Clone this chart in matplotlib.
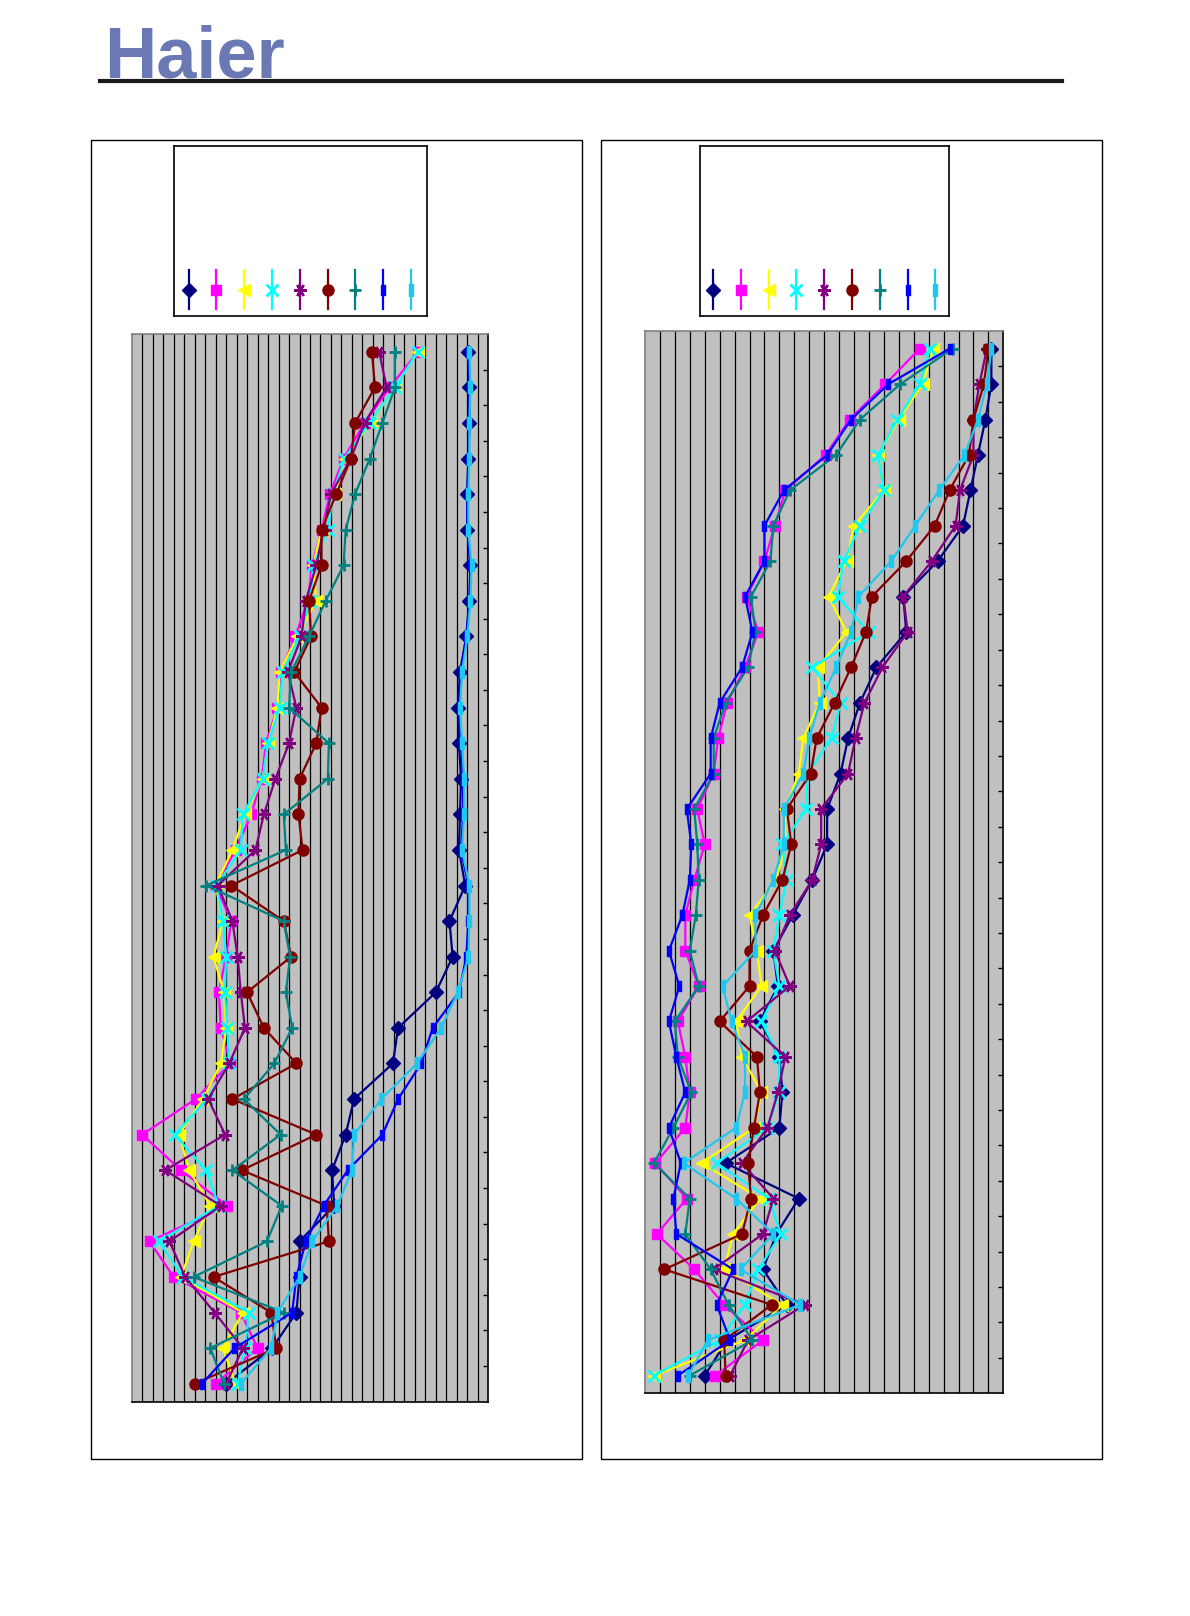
import matplotlib
matplotlib.use('Agg')
import matplotlib.pyplot as plt
from matplotlib.patches import Rectangle
from matplotlib.lines import Line2D
from matplotlib.path import Path
import numpy as np

# ---------------- data ----------------
rows = list(range(30))

# left chart (value in grid units, 0..34)
L_A = [32.1, 32.2, 32.2, 32.1, 32.0, 32.0, 32.3, 32.2, 31.9, 31.3, 31.1, 31.2, 31.4, 31.3, 31.2,
       31.8, 30.3, 30.6, 29.0, 25.4, 24.9, 21.2, 20.4, 19.1, 19.3, 16.0, 16.0, 15.7, 13.4, 9.0]
L_B = [27.3, 24.6, 22.2, 20.2, 18.9, 18.1, 17.2, 16.8, 15.6, 14.2, 13.9, 12.8, 12.4, 11.4, 9.9,
       8.0, 9.5, 9.0, 8.3, 8.5, 9.4, 6.1, 1.0, 4.7, 9.1, 1.7, 4.0, 10.4, 12.0, 8.0]
L_C = [27.3, 25.1, 22.8, 20.3, 19.4, 18.1, 17.3, 17.6, 15.8, 14.1, 13.9, 13.0, 12.5, 10.8, 9.6,
       8.0, 8.7, 7.8, 8.8, 9.0, 8.5, 6.8, 4.5, 5.5, 7.5, 5.9, 4.7, 10.6, 8.7, 9.9]
L_D = [27.3, 25.1, 22.7, 20.3, 19.2, 18.7, 17.3, 17.0, 16.0, 14.4, 14.1, 13.0, 12.5, 10.6, 10.4,
       8.1, 8.7, 9.0, 8.9, 9.1, 9.3, 7.2, 4.1, 7.1, 8.3, 2.6, 4.9, 11.2, 10.8, 10.1]
L_E = [23.6, 24.3, 22.2, 20.9, 19.0, 18.3, 17.6, 16.6, 16.2, 14.9, 15.7, 15.0, 13.7, 12.6, 11.8,
       8.2, 9.6, 10.1, 10.4, 10.8, 9.3, 7.3, 8.9, 3.2, 8.5, 3.6, 5.1, 7.9, 10.6, 9.0]
L_F = [22.9, 23.2, 21.3, 20.9, 19.5, 18.1, 18.1, 16.9, 17.1, 15.5, 18.1, 17.6, 16.0, 15.9, 16.3,
       9.5, 14.5, 15.2, 11.0, 12.6, 15.7, 9.6, 17.6, 10.5, 18.6, 18.8, 7.8, 13.3, 13.8, 6.0]
L_G = [25.1, 25.1, 23.9, 22.7, 21.3, 20.4, 20.2, 18.5, 16.9, 15.2, 15.0, 18.8, 18.7, 14.5, 14.7,
       7.1, 14.5, 15.1, 14.7, 15.3, 13.6, 10.7, 14.2, 9.6, 14.3, 12.9, 5.9, 14.5, 7.5, 8.8]
L_H = [32.1, 32.2, 32.2, 32.1, 32.0, 32.0, 32.3, 32.2, 31.9, 31.4, 31.2, 31.4, 31.6, 31.6, 31.4,
       32.1, 32.1, 31.9, 31.2, 28.7, 27.6, 25.4, 23.9, 20.6, 18.3, 16.6, 15.7, 15.3, 9.8, 6.7]
L_I = [32.2, 32.3, 32.2, 32.2, 32.1, 32.1, 32.4, 32.3, 32.0, 31.5, 31.3, 31.5, 31.7, 31.7, 31.5,
       32.2, 32.2, 32.1, 31.1, 29.5, 27.2, 23.8, 21.2, 21.0, 19.6, 17.2, 16.0, 13.9, 13.3, 10.4]

# right chart (value in grid units, 0..24)
R_A = [23.2, 23.2, 22.8, 22.3, 21.8, 21.3, 19.6, 17.3, 17.5, 15.5, 14.4, 13.6, 13.1, 12.2, 12.2,
       11.2, 9.9, 8.6, 8.9, 7.7, 9.0, 9.2, 9.0, 5.4, 10.3, 8.8, 7.9, 9.5, 5.5, 4.0]
R_B = [18.4, 16.1, 13.7, 12.1, 9.4, 8.7, 8.0, 6.8, 7.6, 6.7, 5.5, 4.9, 4.6, 3.5, 4.0,
       3.3, 2.7, 2.7, 3.6, 2.2, 2.7, 3.0, 2.7, 0.7, 2.8, 0.8, 3.3, 5.3, 7.9, 4.7]
R_C = [19.3, 18.6, 17.0, 15.6, 16.0, 14.0, 13.5, 12.3, 13.5, 11.6, 11.7, 10.6, 10.3, 9.4, 9.4,
       8.8, 7.0, 7.5, 7.8, 6.1, 6.5, 7.8, 7.3, 3.8, 7.7, 5.9, 5.3, 9.2, 6.7, 0.6]
R_D = [19.1, 18.4, 16.9, 15.6, 16.0, 14.4, 13.3, 12.9, 15.0, 11.2, 13.1, 12.5, 10.9, 10.8, 9.2,
       9.5, 9.0, 8.6, 9.0, 7.8, 9.0, 9.0, 8.2, 4.8, 8.3, 9.1, 7.6, 6.7, 5.0, 0.6]
R_E = [22.9, 22.4, 22.0, 22.0, 21.1, 20.8, 19.2, 17.3, 17.6, 15.9, 14.7, 14.1, 13.6, 11.8, 11.8,
       11.2, 9.7, 8.7, 9.7, 6.8, 9.4, 8.9, 8.2, 6.5, 8.6, 7.9, 4.6, 10.7, 6.9, 5.7]
R_F = [23.0, 22.7, 22.0, 21.7, 20.4, 19.4, 17.5, 15.2, 14.8, 13.8, 12.7, 11.5, 11.1, 9.5, 9.8,
       9.2, 7.9, 7.0, 7.0, 5.0, 7.5, 7.7, 7.3, 6.9, 7.1, 6.5, 1.3, 8.5, 5.3, 5.4]
R_G = [20.6, 17.1, 14.4, 12.8, 9.7, 8.6, 8.4, 7.1, 7.4, 6.9, 5.4, 4.6, 4.6, 3.3, 3.5,
       3.6, 3.4, 3.0, 3.6, 2.0, 2.2, 3.1, 1.9, 0.6, 3.0, 2.7, 4.4, 5.6, 7.2, 3.0]
R_H = [20.4, 16.3, 13.8, 12.2, 9.3, 8.0, 8.0, 6.7, 7.2, 6.5, 5.0, 4.4, 4.4, 2.8, 3.1,
       3.0, 2.5, 1.6, 2.3, 1.6, 2.1, 2.7, 1.6, 2.4, 1.9, 2.1, 5.9, 4.8, 5.7, 2.2]
R_I = [23.2, 22.9, 22.3, 21.4, 19.7, 18.1, 16.5, 14.3, 13.8, 12.8, 11.7, 11.0, 10.6, 9.3, 9.3,
       8.6, 7.4, 7.4, 5.2, 5.8, 6.7, 6.7, 6.1, 2.6, 6.1, 8.6, 6.4, 10.4, 4.2, 2.9]

left_series = [L_A, L_B, L_C, L_D, L_E, L_F, L_G, L_H, L_I]
right_series = [R_A, R_B, R_C, R_D, R_E, R_F, R_G, R_H, R_I]

# ---------------- styles ----------------
short_bar = Path([(-0.4, -1), (0.4, -1), (0.4, 1), (-0.4, 1), (-0.4, -1)],
                 [Path.MOVETO, Path.LINETO, Path.LINETO, Path.LINETO, Path.CLOSEPOLY])
long_bar = Path([(-0.3, -1), (0.3, -1), (0.3, 1), (-0.3, 1), (-0.3, -1)],
                [Path.MOVETO, Path.LINETO, Path.LINETO, Path.LINETO, Path.CLOSEPOLY])

styles = [
    dict(color='#000080', marker='D', ms=7),
    dict(color='#FF00FF', marker='s', ms=7.5),
    dict(color='#FFFF00', marker='<', ms=8),
    dict(color='#00FFFF', marker='x', ms=8, mew=2.0),
    dict(color='#800080', marker=(6, 2, 90), ms=9, mew=1.7),
    dict(color='#800000', marker='o', ms=8),
    dict(color='#008080', marker='+', ms=9, mew=2.0),
    dict(color='#0000FF', marker=short_bar, ms=6.5),
    dict(color='#1EC8F0', marker=long_bar, ms=8.5),
]

W, H = 1190, 1616
fig = plt.figure(figsize=(W / 100, H / 100), dpi=100)
fig.patch.set_facecolor('white')


def fx(px):
    return px / W


def fy(py):
    return 1 - py / H


# ---------------- header ----------------
fig.text(fx(104), fy(77), 'Haier', fontsize=52, fontweight='bold',
         family=['Liberation Sans', 'DejaVu Sans'], color='#6A78B4',
         ha='left', va='baseline')
fig.add_artist(Line2D([fx(100), fx(1062)], [fy(80.5), fy(80.5)], color='#1a1a1a', lw=3.0))

# ---------------- frames ----------------
for (x0, x1) in [(90.7, 582.1), (600.7, 1102.4)]:
    fig.patches.append(Rectangle((fx(x0), fy(1459)), fx(x1 - x0), (1459 - 140) / H,
                                 transform=fig.transFigure, fill=False,
                                 edgecolor='black', lw=1.0))


# ---------------- charts ----------------
def draw_chart(rect_px, series, nmax):
    x0, y0, x1, y1 = rect_px
    ax = fig.add_axes([fx(x0), fy(y1), fx(x1 - x0), (y1 - y0) / H])
    ax.set_facecolor('#C0C0C0')
    for vals, st in zip(series, styles):
        ax.plot(vals, rows, color=st['color'], lw=1.6, marker=st['marker'],
                ms=st['ms'], mec=st['color'], mfc=st['color'],
                mew=st.get('mew', 1.0), zorder=3)
    ax.set_xlim(0, nmax)
    ax.set_ylim(29.5, -0.5)
    ax.set_xticks(np.arange(1, nmax))
    ax.xaxis.grid(True, color='black', lw=0.9)
    ax.set_axisbelow(True)
    ax.tick_params(axis='x', length=0, labelbottom=False)
    ax.yaxis.tick_right()
    ax.set_yticks(np.arange(0.5, 29, 1))
    ax.tick_params(axis='y', direction='in', length=3.5, width=1.0, color='black',
                   labelright=False, labelleft=False)
    ax.spines['left'].set_color('#808080')
    ax.spines['top'].set_color('#808080')
    ax.spines['right'].set_color('black')
    ax.spines['bottom'].set_color('black')
    for s in ax.spines.values():
        s.set_linewidth(1.2)
    return ax


draw_chart((131.7, 334, 488.3, 1401.5), left_series, 34)
draw_chart((645, 331, 1003.3, 1393.3), right_series, 24)


# ---------------- legends ----------------
def draw_legend(box_px, first_x):
    x0, y0, x1, y1 = box_px
    lax = fig.add_axes([fx(x0), fy(y1), fx(x1 - x0), (y1 - y0) / H])
    lax.set_xlim(0, x1 - x0)
    lax.set_ylim(0, y1 - y0)
    lax.set_xticks([])
    lax.set_yticks([])
    for s in lax.spines.values():
        s.set_color('black')
        s.set_linewidth(1.2)
    for k, st in enumerate(styles):
        xx = first_x + 27.8 * k
        lax.plot([xx, xx], [7, 46], color=st['color'], lw=1.6)
        lax.plot([xx], [26.5], color=st['color'], marker=st['marker'], ms=st['ms'],
                 mec=st['color'], mfc=st['color'], mew=st.get('mew', 1.0), ls='none')


draw_legend((174, 146, 426.5, 316), 14.5)
draw_legend((699.6, 146, 949, 316), 13.4)

fig.savefig('out.png', dpi=100, facecolor='white')
